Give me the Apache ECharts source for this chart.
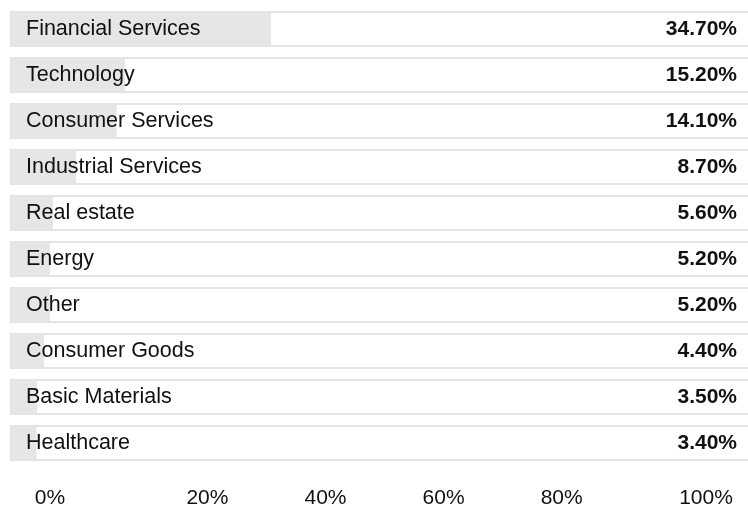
<!DOCTYPE html>
<html>
<head>
<meta charset="utf-8">
<script src="https://cdn.jsdelivr.net/npm/echarts@6/dist/echarts.min.js"></script>
<style>
html,body{margin:0;padding:0;background:#fff;}
#chart{width:748px;height:506px;}
</style>
</head>
<body>
<div id="chart"></div>
<script>
var categories = ['Financial Services','Technology','Consumer Services','Industrial Services','Real estate','Energy','Other','Consumer Goods','Basic Materials','Healthcare'];
var weights = [34.7, 15.2, 14.1, 8.7, 5.6, 5.2, 5.2, 4.4, 3.5, 3.4];
var tickLabels = ['0%','20%','40%','60%','80%','100%'];
var tickSlots = [0, 24, 42, 60, 78, 100];

var chart = echarts.init(document.getElementById('chart'));
var font = '"Liberation Sans", Arial, Helvetica, sans-serif';
chart.setOption({
  animation: false,
  backgroundColor: '#fff',
  grid: [
    {left: 11, width: 749, top: 6, bottom: 40, outerBoundsMode: 'none', containLabel: false},
    {left: 50, right: 42, top: 440, height: 40, outerBoundsMode: 'none', containLabel: false}
  ],
  xAxis: [
    {gridIndex: 0, type: 'value', min: 0, max: 100, show: false},
    {gridIndex: 1, type: 'value', min: 0, max: 100,
     axisLine: {show: false}, axisTick: {show: false}, splitLine: {show: false},
     axisLabel: {customValues: tickSlots, margin: 8, fontSize: 21, color: '#111', fontFamily: font,
       formatter: function (v) { var i = tickSlots.indexOf(v); return i >= 0 ? tickLabels[i] : ''; }}}
  ],
  yAxis: [
    {gridIndex: 0, type: 'category', inverse: true, data: categories, z: 10,
     axisLine: {show: false}, axisTick: {show: false}, splitLine: {show: false},
     axisLabel: {inside: true, margin: 15, fontSize: 21.5, color: '#111', fontFamily: font}},
    {gridIndex: 0, type: 'category', inverse: true, data: categories, position: 'right', z: 10,
     axisLine: {show: false}, axisTick: {show: false}, splitLine: {show: false},
     axisLabel: {inside: true, margin: 23, fontSize: 21, fontWeight: 'bold', color: '#111', fontFamily: font,
       formatter: function (v, i) { return weights[i].toFixed(2) + '%'; }}},
    {gridIndex: 1, type: 'value', show: false}
  ],
  series: [{
    type: 'bar',
    xAxisIndex: 0, yAxisIndex: 0,
    data: weights,
    barWidth: 34,
    itemStyle: {color: '#e6e6e6'},
    showBackground: true,
    backgroundStyle: {color: '#ffffff', borderColor: '#e3e3e3', borderWidth: 2}
  }]
});
</script>
</body>
</html>
